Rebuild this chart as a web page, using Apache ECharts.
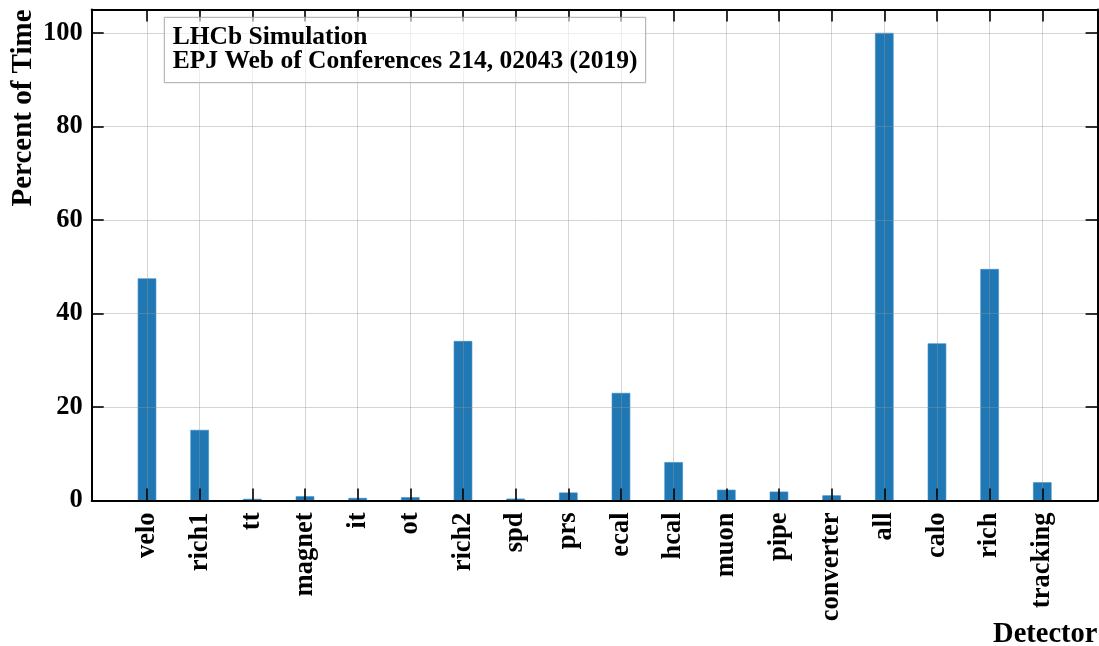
<!DOCTYPE html>
<html>
<head>
<meta charset="utf-8">
<title>Percent of Time per Detector</title>
<script src="https://cdn.jsdelivr.net/npm/echarts@6/dist/echarts.min.js"></script>
<style>
  html, body { margin: 0; padding: 0; background: #fff; }
  #chart { width: 1099px; height: 646px; }
</style>
</head>
<body>
<div id="chart"></div>
<script>
// Detector categories and share of simulation time spent in each (percent)
const detectors = ['velo', 'rich1', 'tt', 'magnet', 'it', 'ot', 'rich2', 'spd', 'prs',
                   'ecal', 'hcal', 'muon', 'pipe', 'converter', 'all', 'calo', 'rich', 'tracking'];
const percentOfTime = [47.5, 15.1, 0.35, 0.9, 0.55, 0.7, 34.1, 0.4, 1.7,
                       23.0, 8.2, 2.3, 1.9, 1.1, 100, 33.6, 49.5, 3.9];
const yTicks = [0, 20, 40, 60, 80, 100];
const noteLines = ['LHCb Simulation', 'EPJ Web of Conferences 214, 02043 (2019)'];
const yTitle = 'Percent of Time';
const xTitle = 'Detector';

const SERIF = '"Liberation Serif", "Times New Roman", Times, serif';
const GRID_COLOR = 'rgba(150,150,150,0.4)';
const positions = detectors.map((_, i) => i);

const tick = { show: true, inside: true, length: 12, lineStyle: { color: '#000', width: 1.6 } };
const frameLine = { show: true, onZero: false, lineStyle: { color: '#000', width: 2 } };

const chart = echarts.init(document.getElementById('chart'), null, { renderer: 'canvas' });

chart.setOption({
  backgroundColor: '#fff',
  animation: false,
  grid: {
    left: 91.7, right: 1.4, top: 9.5, bottom: 145.5,
    outerBoundsMode: 'none', containLabel: false,
    show: false
  },
  xAxis: [
    {
      type: 'value', position: 'bottom', z: 3,
      min: -1.05, max: 18.05,
      axisLine: frameLine,
      axisTick: Object.assign({}, tick, { customValues: positions }),
      axisLabel: {
        customValues: positions,
        formatter: v => detectors[Math.round(v)] || '',
        rotate: 90, margin: 12,
        color: '#000', fontFamily: SERIF, fontWeight: 'bold', fontSize: 26.5
      },
      splitLine: { show: true, lineStyle: { color: GRID_COLOR, width: 1 } }
    },
    {
      type: 'value', position: 'top', z: 3,
      min: -1.05, max: 18.05,
      axisLine: frameLine,
      axisTick: Object.assign({}, tick, { customValues: positions }),
      axisLabel: { show: false },
      splitLine: { show: false }
    }
  ],
  yAxis: [
    {
      type: 'value', position: 'left', z: 3,
      min: 0, max: 105,
      axisLine: frameLine,
      axisTick: Object.assign({}, tick, { customValues: yTicks }),
      axisLabel: {
        customValues: yTicks, margin: 9,
        color: '#000', fontFamily: SERIF, fontWeight: 'bold', fontSize: 26.5
      },
      splitLine: { show: true, lineStyle: { color: GRID_COLOR, width: 1 } }
    },
    {
      type: 'value', position: 'right', z: 3,
      min: 0, max: 105,
      axisLine: frameLine,
      axisTick: Object.assign({}, tick, { customValues: yTicks }),
      axisLabel: { show: false },
      splitLine: { show: false }
    }
  ],
  series: [
    {
      type: 'bar',
      xAxisIndex: 0, yAxisIndex: 0,
      barWidth: 18.5,
      itemStyle: { color: '#1f77b4', borderColor: '#3a8ac4', borderWidth: 0.6 },
      data: percentOfTime.map((v, i) => [i, v])
    }
  ],
  graphic: [
    {
      type: 'rect', z: 10,
      shape: { x: 164.3, y: 17.3, width: 481.4, height: 65.4 },
      style: { fill: 'rgba(255,255,255,0.6)', stroke: '#a8a8a8', lineWidth: 1 }
    },
    ...noteLines.map((line, k) => ({
      type: 'text', z: 11,
      x: 172.7, y: 37 + k * 24.6,
      style: {
        text: line, fill: '#000',
        font: 'bold 25.5px ' + SERIF,
        align: 'left', verticalAlign: 'middle'
      }
    })),
    {
      type: 'text', z: 11,
      x: 24, y: 9.5, rotation: Math.PI / 2,
      style: {
        text: yTitle, fill: '#000',
        font: 'bold 29px ' + SERIF,
        align: 'right', verticalAlign: 'middle'
      }
    },
    {
      type: 'text', z: 11,
      x: 1097.5, y: 635,
      style: {
        text: xTitle, fill: '#000',
        font: 'bold 28.5px ' + SERIF,
        align: 'right', verticalAlign: 'middle'
      }
    }
  ]
});
</script>
</body>
</html>
